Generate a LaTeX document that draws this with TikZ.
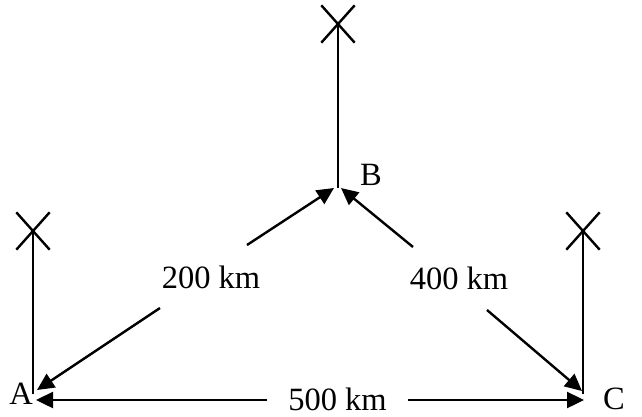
\documentclass[tikz,border=0pt]{standalone}
\usepackage{fontspec}
\setmainfont{Liberation Serif}
\usetikzlibrary{arrows.meta,shapes.misc}
\begin{document}
\begin{tikzpicture}[x=1pt,y=-1pt,
  line width=2.4pt,
  arr/.style={-{Triangle[length=17pt,width=16pt]}},
  mast/.style={cross out,draw,line width=2.4pt,minimum width=31pt,minimum height=35pt,inner sep=0pt},
  lbl/.style={inner sep=0pt,font=\fontsize{32.5}{38}\selectfont}]
\useasboundingbox (0,0) rectangle (642,416);
% masts
\node[mast] (xA) at (33,231) {};
\node[mast] (xB) at (338,24) {};
\node[mast] (xC) at (583,231) {};
\coordinate (baseA) at (33,394);
\coordinate (baseB) at (338,188);
\coordinate (baseC) at (583,394);
\draw (baseA) -- (xA.center);
\draw (baseB) -- (xB.center);
\draw (baseC) -- (xC.center);
% point labels
\node[lbl] (A) at (21,394) {A};
\node[lbl] (B) at (371,175) {B};
\node[lbl] (C) at (614,399) {C};
% arrow tips
\coordinate (tAB) at (37,390);
\coordinate (tAC) at (36,400);
\coordinate (tBA) at (334,188);
\coordinate (tBC) at (341,188);
\coordinate (tCB) at (582,391);
\coordinate (tCA) at (584,400);
% distance labels
\node[lbl] (d200) at (211,277) {200 km};
\node[lbl] (d400) at (459,278) {400 km};
\node[lbl] (d500) at (337.5,399) {500 km};
% gap ends
\coordinate (gAB1) at (160,308);
\coordinate (gAB2) at (247,245);
\coordinate (gBC1) at (413,247);
\coordinate (gBC2) at (487,310);
\coordinate (gAC1) at (267,400);
\coordinate (gAC2) at (408,400);
\draw[arr] (gAB1) -- (tAB);
\draw[arr] (gAB2) -- (tBA);
\draw[arr] (gBC1) -- (tBC);
\draw[arr] (gBC2) -- (tCB);
\draw[arr] (gAC1) -- (tAC);
\draw[arr] (gAC2) -- (tCA);
\end{tikzpicture}
\end{document}
